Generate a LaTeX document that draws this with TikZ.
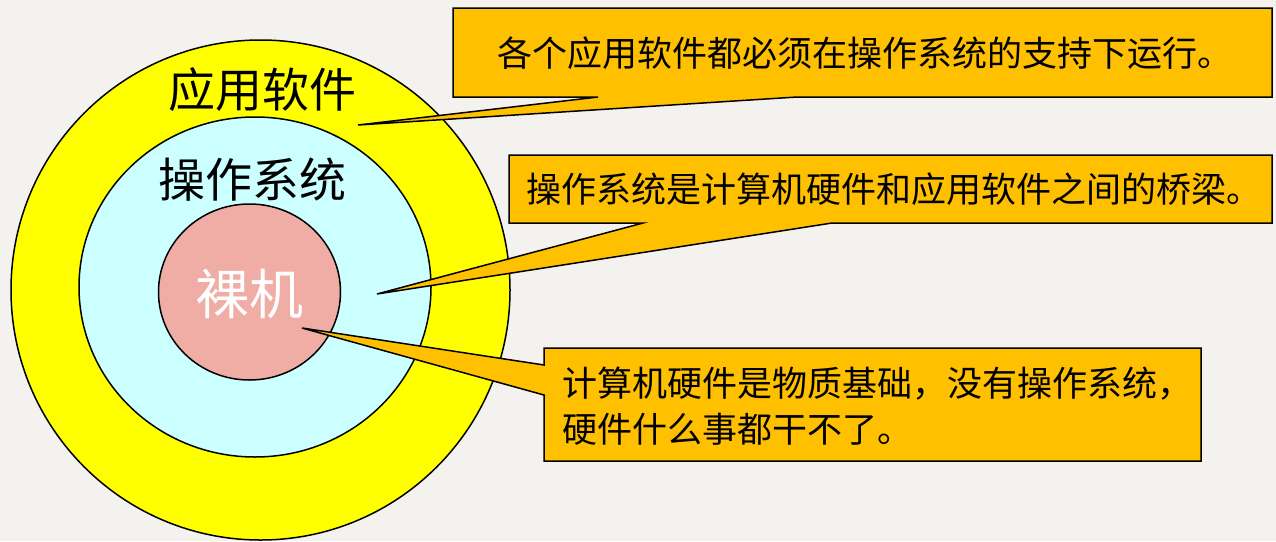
\documentclass[tikz,border=0pt]{standalone}
\usepackage{fontspec}
\newfontfamily\cjk{Noto Sans CJK SC}
\definecolor{bg}{RGB}{243,242,238}
\definecolor{appy}{RGB}{255,255,0}
\definecolor{osc}{RGB}{204,255,255}
\definecolor{hwp}{RGB}{240,173,166}
\definecolor{callo}{RGB}{255,192,0}
\tikzset{
  ring/.style={draw=black, line width=1.5pt},
  callout/.style={draw=black, fill=callo, line width=1.5pt, line join=miter},
  ringlabel/.style={font=\cjk\fontsize{47}{50}\selectfont, inner sep=0pt},
  calltext/.style={font=\cjk\fontsize{35}{46}\selectfont, inner sep=0pt, align=left},
}
\begin{document}
\begin{tikzpicture}[x=1pt,y=-1pt]
\fill[bg] (0,0) rectangle (1276,541);
\useasboundingbox (0,0) rectangle (1276,541);
% rings
\draw[ring, fill=appy] (260.5,290) ellipse [x radius=249.5pt, y radius=250pt];
\draw[ring, fill=osc] (255,287) ellipse [x radius=176pt, y radius=170pt];
\draw[ring, fill=hwp] (249.5,292) ellipse [x radius=91pt, y radius=88pt];
\node[ringlabel] (app) at (262,90) {应用软件};
\node[ringlabel] (os) at (252,180) {操作系统};
\node[ringlabel, text=white, font=\cjk\fontsize{54}{58}\selectfont] (hw) at (249,294) {裸机};
% pointer tips
\coordinate (tip1) at (358,125);
\coordinate (tip2) at (377,294);
\coordinate (tip3) at (302,328);
% callout 1
\draw[callout] (453,8) -- (1272,8) -- (1272,97) -- (797,97) -- (tip1) -- (598,97) -- (453,97) -- cycle;
\node[calltext] (t1) at (865,53) {各个应用软件都必须在操作系统的支持下运行。};
% callout 2
\draw[callout] (509,155) -- (1272,155) -- (1272,223) -- (832,223) -- (tip2) -- (643,223) -- (509,223) -- cycle;
\node[calltext] (t2) at (894,189) {操作系统是计算机硬件和应用软件之间的桥梁。};
% callout 3
\draw[callout] (544,348) -- (1201,348) -- (1201,461) -- (544,461) -- (544,395) -- (tip3) -- (544,365) -- cycle;
\node[calltext, anchor=west] (t3) at (562,406) {计算机硬件是物质基础，没有操作系统，\\硬件什么事都干不了。};
\end{tikzpicture}
\end{document}
